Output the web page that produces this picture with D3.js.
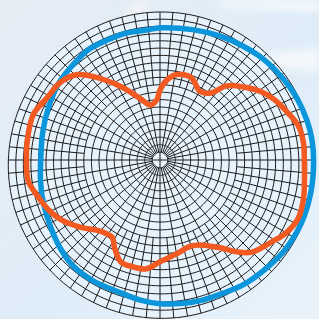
<!DOCTYPE html>
<html>
<head>
<meta charset="utf-8">
<script src="https://cdn.jsdelivr.net/npm/d3@7"></script>
<style>
  body { margin: 0; background: #e4eef8; }
  svg { display: block; }
</style>
</head>
<body>
<div class="chart-container"></div>
<script>
// --- Data ---

// grid: 20 rings, spokes every 10 deg (inner) and every 5 deg (outer half)
const ringCount = 20;
const rings = d3.range(1, ringCount + 1);
const innerSpokes = d3.range(0, 360, 10);
const outerSpokes = d3.range(5, 360, 10);
const outerSpokeStart = 10; // ring where the extra spokes begin

// orange series (angle in degrees clockwise from top, radius in rings)
const orangeAngles = [0, 5, 11, 20, 24, 30, 37, 42, 49, 56, 62, 70, 76, 83, 90,
  105, 113, 120, 126, 135, 140, 146, 155, 161, 170, 180, 187, 195, 201, 207, 212,
  220, 230, 239, 246, 253, 261, 270, 281, 290, 299, 308, 316, 320, 326, 333, 342, 350, 357];
const orangeValues = [9.3, 10.7, 11.6, 11.75, 11.3, 10.5, 11.1, 13.2, 14.7, 16.1, 17.0, 17.9, 18.6, 18.8, 18.7,
  19.1, 19.2, 18.6, 17.7, 16.6, 15.3, 13.5, 12.0, 11.7, 12.2, 13.0, 14.0, 14.1, 14.0, 12.8, 11.7,
  12.0, 13.5, 15.0, 15.9, 16.6, 17.5, 17.6, 17.8, 17.9, 17.2, 16.9, 15.9, 14.7, 12.8, 10.8, 8.6, 7.4, 8.0];

// blue series
const blueAngles = [0, 14, 26, 36, 46, 57, 66, 75, 82, 90, 102, 114, 125, 134, 146,
  156, 164, 172, 180, 188, 198, 209, 219, 228, 239, 250, 260, 270, 283, 295, 307, 317, 327, 336, 345, 354];
const blueValues = [17.8, 18.05, 18.45, 18.8, 19.2, 19.5, 19.75, 19.9, 19.95, 19.9, 19.85, 19.8, 19.6, 19.3, 19.0,
  18.6, 18.5, 18.35, 18.2, 17.95, 17.6, 17.65, 17.6, 17.2, 16.6, 16.2, 15.9, 15.7, 15.95, 16.4, 17.0, 17.3, 17.7, 17.65, 17.7, 17.6];

// --- Layout ---
const w = 319;
const h = 319;
const cx = 160;
const cy = 160;
const R = 150;
const stretch = 1.02;     // screen scale of the plate
const tilt = 0.035 / R;   // slight perspective
const nearAngle = 165;    // side of the plate nearest the viewer

const rScale = d3.scaleLinear().domain([0, ringCount]).range([0, R]);
const aScale = d3.scaleLinear().domain([0, 360]).range([0, 2 * Math.PI]);

// plate coordinates -> screen, with a little perspective
function project(angle, ring) {
  const r = rScale(ring);
  const a = aScale(angle);
  const u = r * Math.sin(a);
  const v = -r * Math.cos(a);
  const q = 1 - tilt * r * Math.cos(a - aScale(nearAngle));
  return [cx + stretch * u / q, cy + stretch * v / q];
}

const svg = d3.select(".chart-container")
  .append("svg")
  .attr("width", w)
  .attr("height", h);

// --- Background ---
const defs = svg.append("defs");
const bg = defs.append("linearGradient")
  .attr("id", "bg")
  .attr("x1", 0).attr("y1", 0).attr("x2", 1).attr("y2", 1);
bg.append("stop").attr("offset", "0%").attr("stop-color", "#e6edf5");
bg.append("stop").attr("offset", "55%").attr("stop-color", "#dfedf8");
bg.append("stop").attr("offset", "100%").attr("stop-color", "#e9f3fb");

defs.append("filter").attr("id", "blur")
  .append("feGaussianBlur").attr("stdDeviation", 4);

svg.append("rect")
  .attr("width", w)
  .attr("height", h)
  .attr("fill", "url(#bg)");

// soft light streaks
svg.append("path")
  .attr("d", "M0,215 L8,205 L150,0 L135,0 Z")
  .attr("fill", "#f6f4f6")
  .attr("opacity", 0.8)
  .attr("filter", "url(#blur)");
svg.append("path")
  .attr("d", "M215,0 L319,0 L319,12 L225,8 Z")
  .attr("fill", "#f4f8fb")
  .attr("filter", "url(#blur)");
svg.append("path")
  .attr("d", "M265,55 L319,48 L319,72 L270,66 Z")
  .attr("fill", "#f4f8fb")
  .attr("filter", "url(#blur)");

// --- Polar grid ---
const ringLine = d3.line().curve(d3.curveLinearClosed);
const ringSteps = d3.range(0, 360, 2);

const grid = svg.append("g");

grid.append("path")
  .attr("d", ringLine(ringSteps.map(a => project(a, ringCount))))
  .attr("fill", "#e7f3fc");

grid.selectAll("path.ring")
  .data(rings)
  .enter()
  .append("path")
  .attr("class", "ring")
  .attr("d", d => ringLine(ringSteps.map(a => project(a, d))))
  .attr("fill", "none")
  .attr("stroke", "#1c1c1c")
  .attr("stroke-width", 1);

const spokes = innerSpokes.map(a => ({ a: a, from: a % 90 === 0 ? 0 : 1 }))
  .concat(outerSpokes.map(a => ({ a: a, from: outerSpokeStart })));

grid.selectAll("line.spoke")
  .data(spokes)
  .enter()
  .append("line")
  .attr("class", "spoke")
  .attr("x1", d => project(d.a, d.from)[0])
  .attr("y1", d => project(d.a, d.from)[1])
  .attr("x2", d => project(d.a, ringCount)[0])
  .attr("y2", d => project(d.a, ringCount)[1])
  .attr("stroke", "#1c1c1c")
  .attr("stroke-width", 1);

// --- Series ---
const curve = d3.line().curve(d3.curveCatmullRomClosed.alpha(0.5));

svg.append("path")
  .attr("d", curve(blueAngles.map((a, i) => project(a, blueValues[i]))))
  .attr("fill", "none")
  .attr("stroke", "#0b95da")
  .attr("stroke-width", 5.5)
  .attr("stroke-linejoin", "round");

svg.append("path")
  .attr("d", curve(orangeAngles.map((a, i) => project(a, orangeValues[i]))))
  .attr("fill", "none")
  .attr("stroke", "#f35a22")
  .attr("stroke-width", 5.5)
  .attr("stroke-linejoin", "round");
</script>
</body>
</html>
